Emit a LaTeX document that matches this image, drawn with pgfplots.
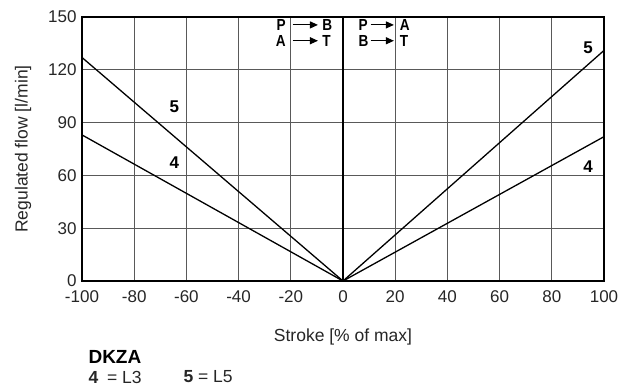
\documentclass[border=0pt]{standalone}
\usepackage{fontspec}
\setmainfont{Liberation Sans}
\newfontfamily\narrowbold{Liberation Sans}[FakeStretch=0.85]
\usepackage{pgfplots}
\pgfplotsset{compat=1.18}
\usetikzlibrary{arrows.meta}

\newcommand{\lbl}{\fontsize{16}{18}\selectfont\narrowbold\bfseries}
\newcommand{\cur}{\fontsize{17}{19}\selectfont\bfseries}
\tikzset{flowarrow/.style={-{Triangle[length=8pt,width=7pt]}, line width=1.1pt}}

\begin{document}
\begin{tikzpicture}
\begin{axis}[name=ax, scale only axis, width=522pt, height=264pt,
  xmin=-100, xmax=100, ymin=0, ymax=150,
  xtick={-100,-80,...,100}, ytick={0,30,...,150},
  grid=major, grid style={black!65, line width=0.8pt},
  axis line style={line width=1.3pt},
  major tick length=0pt,
  /pgf/number format/assume math mode=true,
  tick label style={font=\fontsize{17}{20}\selectfont, text=black!85},
  xticklabel style={yshift=-6pt},
  yticklabel style={xshift=-2pt},
  xlabel={Stroke [\% of max]}, ylabel={Regulated flow [l/min]},
  label style={font=\fontsize{17.5}{20}\selectfont, text=black!85},
  x label style={at={(rel axis cs:0.5,0)}, yshift=-56pt, anchor=center},
  y label style={at={(rel axis cs:0,0.5)}, yshift=59pt, anchor=center},
]
\addplot[black, line width=1.3pt] coordinates {(0,0) (0,150)};
% curve 5
\addplot[black, line width=1.3pt] coordinates {(-100,127) (0,0) (100,131)};
% curve 4
\addplot[black, line width=1.3pt] coordinates {(-100,83) (0,0) (100,82)};

\node[font=\cur] at (axis cs:-64.6,99) {5};
\node[font=\cur] at (axis cs:-64.6,67) {4};
\node[font=\cur] at (axis cs:93.9,132.5) {5};
\node[font=\cur] at (axis cs:93.9,65) {4};

\node[font=\lbl, anchor=east] at (axis cs:-20.6,145.5) {P};
\draw[flowarrow] (axis cs:-19.3,145.5) -- (axis cs:-9.6,145.5);
\node[font=\lbl, anchor=west] at (axis cs:-9.3,145.5) {B};
\node[font=\lbl, anchor=east] at (axis cs:-20.6,136.5) {A};
\draw[flowarrow] (axis cs:-19.3,136.5) -- (axis cs:-9.6,136.5);
\node[font=\lbl, anchor=west] at (axis cs:-9.3,136.5) {T};

\node[font=\lbl, anchor=west] at (axis cs:4.6,145.5) {P};
\draw[flowarrow] (axis cs:10.6,145.5) -- (axis cs:19.5,145.5);
\node[font=\lbl, anchor=west] at (axis cs:20.4,145.5) {A};
\node[font=\lbl, anchor=west] at (axis cs:4.6,136.5) {B};
\draw[flowarrow] (axis cs:10.6,136.5) -- (axis cs:19.5,136.5);
\node[font=\lbl, anchor=west] at (axis cs:20.4,136.5) {T};
\end{axis}

\node[anchor=west, font=\fontsize{19}{22}\selectfont\bfseries] at ([shift={(3pt,-76pt)}]ax.south west) {DKZA};
\node[anchor=west, font=\fontsize{17.5}{20}\selectfont, text=black!85] at ([shift={(3pt,-96pt)}]ax.south west) {\textbf{4}\enspace = L3};
\node[anchor=west, font=\fontsize{17.5}{20}\selectfont, text=black!85] at ([shift={(98pt,-96pt)}]ax.south west) {\textbf{5} = L5};

\path (ax.south west) +(-82pt,-106pt) (ax.north east) +(22pt,17pt);
\end{tikzpicture}
\end{document}
